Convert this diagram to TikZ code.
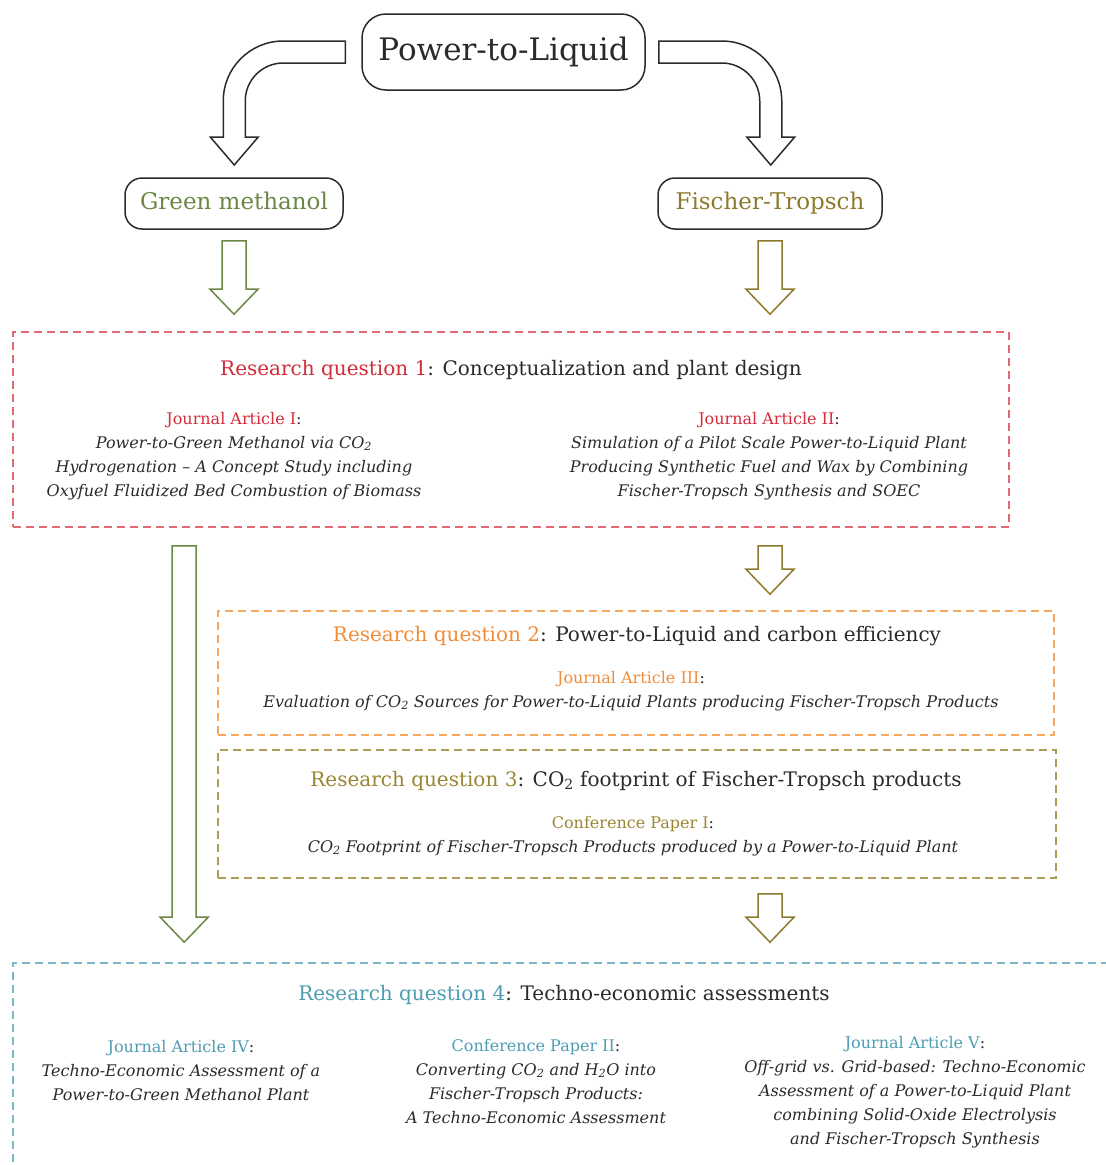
\documentclass[tikz,border=0pt]{standalone}
\usepackage{fontspec}
\setmainfont{DejaVu Serif}
\usepackage{xcolor}
\definecolor{ptlEncre}{HTML}{2A2A2A}
\definecolor{ptlVert}{HTML}{6A8745}
\definecolor{ptlOlive}{HTML}{8C7A2C}
\definecolor{ptlRouge}{HTML}{D22B3A}
\definecolor{ptlRougePale}{HTML}{E36A72}
\definecolor{ptlOrange}{HTML}{F28C38}
\definecolor{ptlOrangePale}{HTML}{F6A85E}
\definecolor{ptlOr}{HTML}{9A8532}
\definecolor{ptlOrPale}{HTML}{B09C58}
\definecolor{ptlBleu}{HTML}{4E9CB2}
\definecolor{ptlBleuPale}{HTML}{7AB8C8}
\usepackage{tikz}
\usetikzlibrary{calc}
%% hollow block arrow: start point, end point (only its y is used), colour
\newcommand{\flecheBloc}[3]{%
  \draw[flecheCreuse, draw=#3] let \p1 = (#1), \p2 = (#2) in
    (\x1-12pt,\y1) -- (\x1-12pt,\y2+25pt) -- (\x1-24pt,\y2+25pt) -- (\x1,\y2)
    -- (\x1+24pt,\y2+25pt) -- (\x1+12pt,\y2+25pt) -- (\x1+12pt,\y1) -- cycle;}
\tikzset{
  %% ── Boxes ────────────────────────────────────────────────────────────
  boiteRonde/.style = {draw=ptlEncre, line width=1.5pt, rounded corners=17pt,
                       text=ptlEncre, inner sep=0pt},
  cadreQ/.style     = {draw=#1, line width=1.6pt, dash pattern=on 8pt off 5pt,
                       inner sep=0pt},
  %% ── Arrows ───────────────────────────────────────────────────────────
  flecheCreuse/.style = {draw=ptlEncre, line width=1.5pt, line join=miter},
  %% ── Text ─────────────────────────────────────────────────────────────
  titreQ/.style     = {font=\fontsize{20}{24}\selectfont, text=ptlEncre,
                       inner sep=0pt},
  article/.style    = {font=\fontsize{16}{24}\selectfont, text=ptlEncre,
                       align=center, anchor=north, inner sep=0pt},
}

\begin{document}
\begin{tikzpicture}[x=1pt, y=-1pt]
\useasboundingbox (0,0) rectangle (1106,1165);
\clip (0,0) rectangle (1106,1165);

%% top of the tree
\node[boiteRonde, minimum width=283pt, minimum height=76pt, rounded corners=24pt,
      font=\fontsize{31}{37}\selectfont, text height=23pt, text depth=7pt]
     (ptl) at (503.5,52) {Power-to-Liquid};
\node[boiteRonde, minimum width=218pt, minimum height=51pt, text=ptlVert,
      font=\fontsize{23}{28}\selectfont, text height=17pt, text depth=5pt]
     (gm) at (234,203.5) {Green methanol};
\node[boiteRonde, minimum width=224pt, minimum height=51pt, text=ptlOlive,
      font=\fontsize{23}{28}\selectfont, text height=17pt, text depth=5pt]
     (ft) at (770,203.5) {Fischer-Tropsch};

\draw[flecheCreuse] ($(ptl.west)+(-16,-11)$) -- ++(-62,0)
  arc[start angle=270, end angle=180, radius=60] -- ++(0,36) -- ++(-13,0)
  -- ++(24,28) -- ++(24,-28) -- ++(-13,0) -- ++(0,-36)
  arc[start angle=180, end angle=270, radius=38] -- ++(62,0) -- cycle;
\draw[flecheCreuse] ($(ptl.east)+(13,-11)$) -- ++(63,0)
  arc[start angle=270, end angle=360, radius=60] -- ++(0,36) -- ++(13,0)
  -- ++(-24,28) -- ++(-24,-28) -- ++(13,0) -- ++(0,-36)
  arc[start angle=0, end angle=-90, radius=38] -- ++(-63,0) -- cycle;

%% research questions
\node[cadreQ=ptlRougePale, minimum width=996pt, minimum height=195pt] (rq1) at (511,429.5) {};
\node[cadreQ=ptlOrangePale, minimum width=836pt, minimum height=124pt] (rq2) at (636,673) {};
\node[cadreQ=ptlOrPale, minimum width=838pt, minimum height=128pt] (rq3) at (637,814) {};
\node[cadreQ=ptlBleuPale, minimum width=1117pt, minimum height=227pt] (rq4) at (571.5,1076.5) {};

\node[titreQ] (q1) at (511,370)
     {\textcolor{ptlRouge}{Research question 1}: Conceptualization and plant design};
\node[article] (ja1) at (234,412)
     {\textcolor{ptlRouge}{Journal Article I}:\\
      \textit{Power-to-Green Methanol via CO\textsubscript{2}}\\
      \textit{Hydrogenation – A Concept Study including}\\
      \textit{Oxyfuel Fluidized Bed Combustion of Biomass}};
\node[article] (ja2) at (769,412)
     {\textcolor{ptlRouge}{Journal Article II}:\\
      \textit{Simulation of a Pilot Scale Power-to-Liquid Plant}\\
      \textit{Producing Synthetic Fuel and Wax by Combining}\\
      \textit{Fischer-Tropsch Synthesis and SOEC}};

\node[titreQ] (q2) at (637,636)
     {\textcolor{ptlOrange}{Research question 2}: Power-to-Liquid and carbon efficiency};
\node[article] (ja3) at (631,671)
     {\textcolor{ptlOrange}{Journal Article III}:\\
      \textit{Evaluation of CO\textsubscript{2} Sources for Power-to-Liquid Plants producing Fischer-Tropsch Products}};

\node[titreQ] (q3) at (636,781)
     {\textcolor{ptlOr}{Research question 3}: CO\textsubscript{2} footprint of Fischer-Tropsch products};
\node[article] (cp1) at (633,816)
     {\textcolor{ptlOr}{Conference Paper I}:\\
      \textit{CO\textsubscript{2} Footprint of Fischer-Tropsch Products produced by a Power-to-Liquid Plant}};

\node[titreQ] (q4) at (564,995)
     {\textcolor{ptlBleu}{Research question 4}: Techno-economic assessments};
\node[article] (ja4) at (181,1040)
     {\textcolor{ptlBleu}{Journal Article IV}:\\
      \textit{Techno-Economic Assessment of a}\\
      \textit{Power-to-Green Methanol Plant}};
\node[article] (cp2) at (536,1039)
     {\textcolor{ptlBleu}{Conference Paper II}:\\
      \textit{Converting CO\textsubscript{2} and H\textsubscript{2}O into}\\
      \textit{Fischer-Tropsch Products:}\\
      \textit{A Techno-Economic Assessment}};
\node[article] (ja5) at (915,1036)
     {\textcolor{ptlBleu}{Journal Article V}:\\
      \textit{Off-grid vs. Grid-based: Techno-Economic}\\
      \textit{Assessment of a Power-to-Liquid Plant}\\
      \textit{combining Solid-Oxide Electrolysis}\\
      \textit{and Fischer-Tropsch Synthesis}};

%% block arrows
\flecheBloc{$(gm.south)+(0,11)$}{$(rq1.north)+(0,-17)$}{ptlVert}
\flecheBloc{$(ft.south)+(0,11)$}{$(rq1.north)+(0,-17)$}{ptlOlive}
\flecheBloc{$(rq1.south west)+(172,18)$}{$(rq4.north)+(0,-20)$}{ptlVert}
\flecheBloc{$(rq1.south -| ft)+(0,18)$}{$(rq2.north)+(0,-16)$}{ptlOlive}
\flecheBloc{$(rq3.south -| ft)+(0,15)$}{$(rq4.north)+(0,-20)$}{ptlOlive}

\end{tikzpicture}
\end{document}
